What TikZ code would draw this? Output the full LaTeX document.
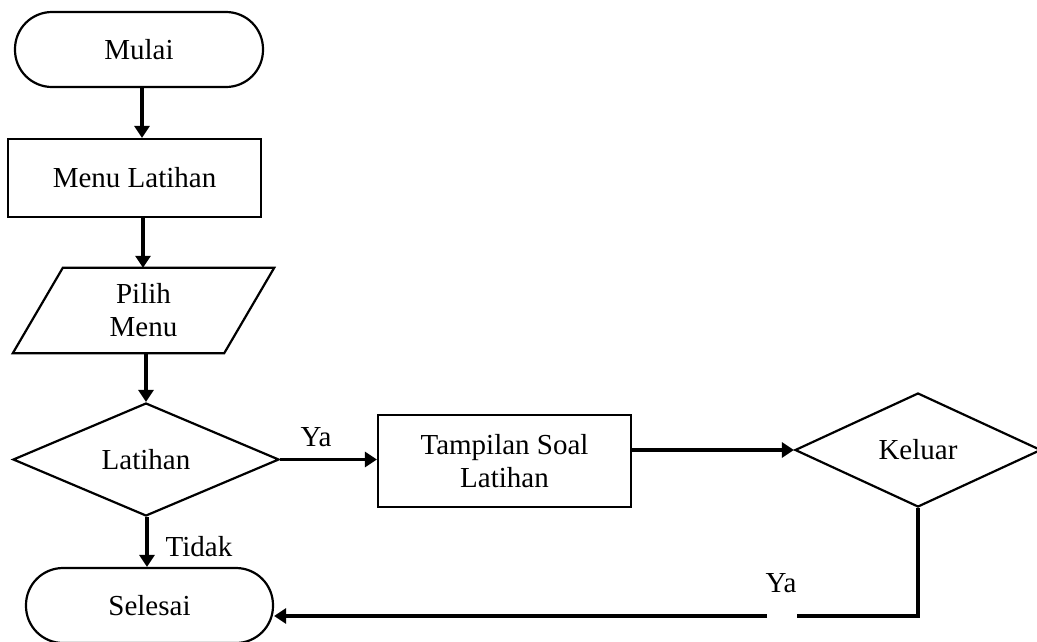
\documentclass[tikz,border=0pt]{standalone}
\usepackage{fontspec}
\setmainfont{Liberation Serif}
\usetikzlibrary{shapes.geometric,arrows.meta}
\begin{document}
\begin{tikzpicture}[x=1pt,y=-1pt,
  every node/.style={font=\fontsize{29}{33}\selectfont, inner sep=0pt},
  terminal/.style={draw, line width=2.2pt, rectangle, rounded corners=37pt,
    minimum width=248pt, minimum height=75pt},
  process/.style={draw, line width=2.2pt, rectangle, minimum width=253pt, align=center},
  decision/.style={draw, line width=2.2pt, diamond, align=center},
  flow/.style={line width=3.6pt, -{Triangle[length=12pt,width=15pt]}},
  plain/.style={line width=3.6pt},
  lbl/.style={}]
\useasboundingbox (0,0) rectangle (1037,641);

% shapes
\node[terminal] (mulai) at (139,49.5) {Mulai};
\node[process, minimum height=78pt] (menu) at (134.5,178) {Menu Latihan};
\node[minimum width=261pt, minimum height=85pt, align=center] (pilih) at (143.5,310.5) {Pilih\\Menu};
\draw[line width=2.2pt, line join=miter]
  ([xshift=50pt]pilih.north west) -- (pilih.north east)
  -- ([xshift=-50pt]pilih.south east) -- (pilih.south west) -- cycle;
\node[decision, minimum width=266pt, minimum height=113pt] (latihan) at (146,459.5) {Latihan};
\node[process, minimum height=92pt] (tampil) at (504.5,461) {Tampilan Soal\\Latihan};
\node[decision, minimum width=246pt, minimum height=114pt] (keluar) at (918,450) {Keluar};
\node[terminal, minimum width=247pt] (selesai) at (149.5,605.5) {Selesai};

% labels
\node[lbl] (ya1) at (316,437) {Ya};
\node[lbl] (tidak) at (199,547) {Tidak};
\node[lbl] (ya2) at (781,583) {Ya};

% connectors
\draw[flow] (mulai.south -| 142,0) -- (menu.north -| 142,0);
\draw[flow] (menu.south -| 143,0) -- (pilih.north -| 143,0);
\draw[flow] (pilih.south -| 146,0) -- (latihan.north);
\draw[flow] (latihan.east) -- (latihan.east -| tampil.west);
\draw[flow] (keluar.west -| tampil.east) -- (keluar.west);
\draw[flow] (latihan.south -| 147,0) -- (selesai.north -| 147,0);

\coordinate (gapR) at (797,616);
\coordinate (gapL) at (767,616);
\draw[plain, line join=miter] (keluar.south) -- (keluar.south |- gapR) -- (gapR);
\draw[flow] (gapL) -- (gapL -| selesai.east);
\end{tikzpicture}
\end{document}
